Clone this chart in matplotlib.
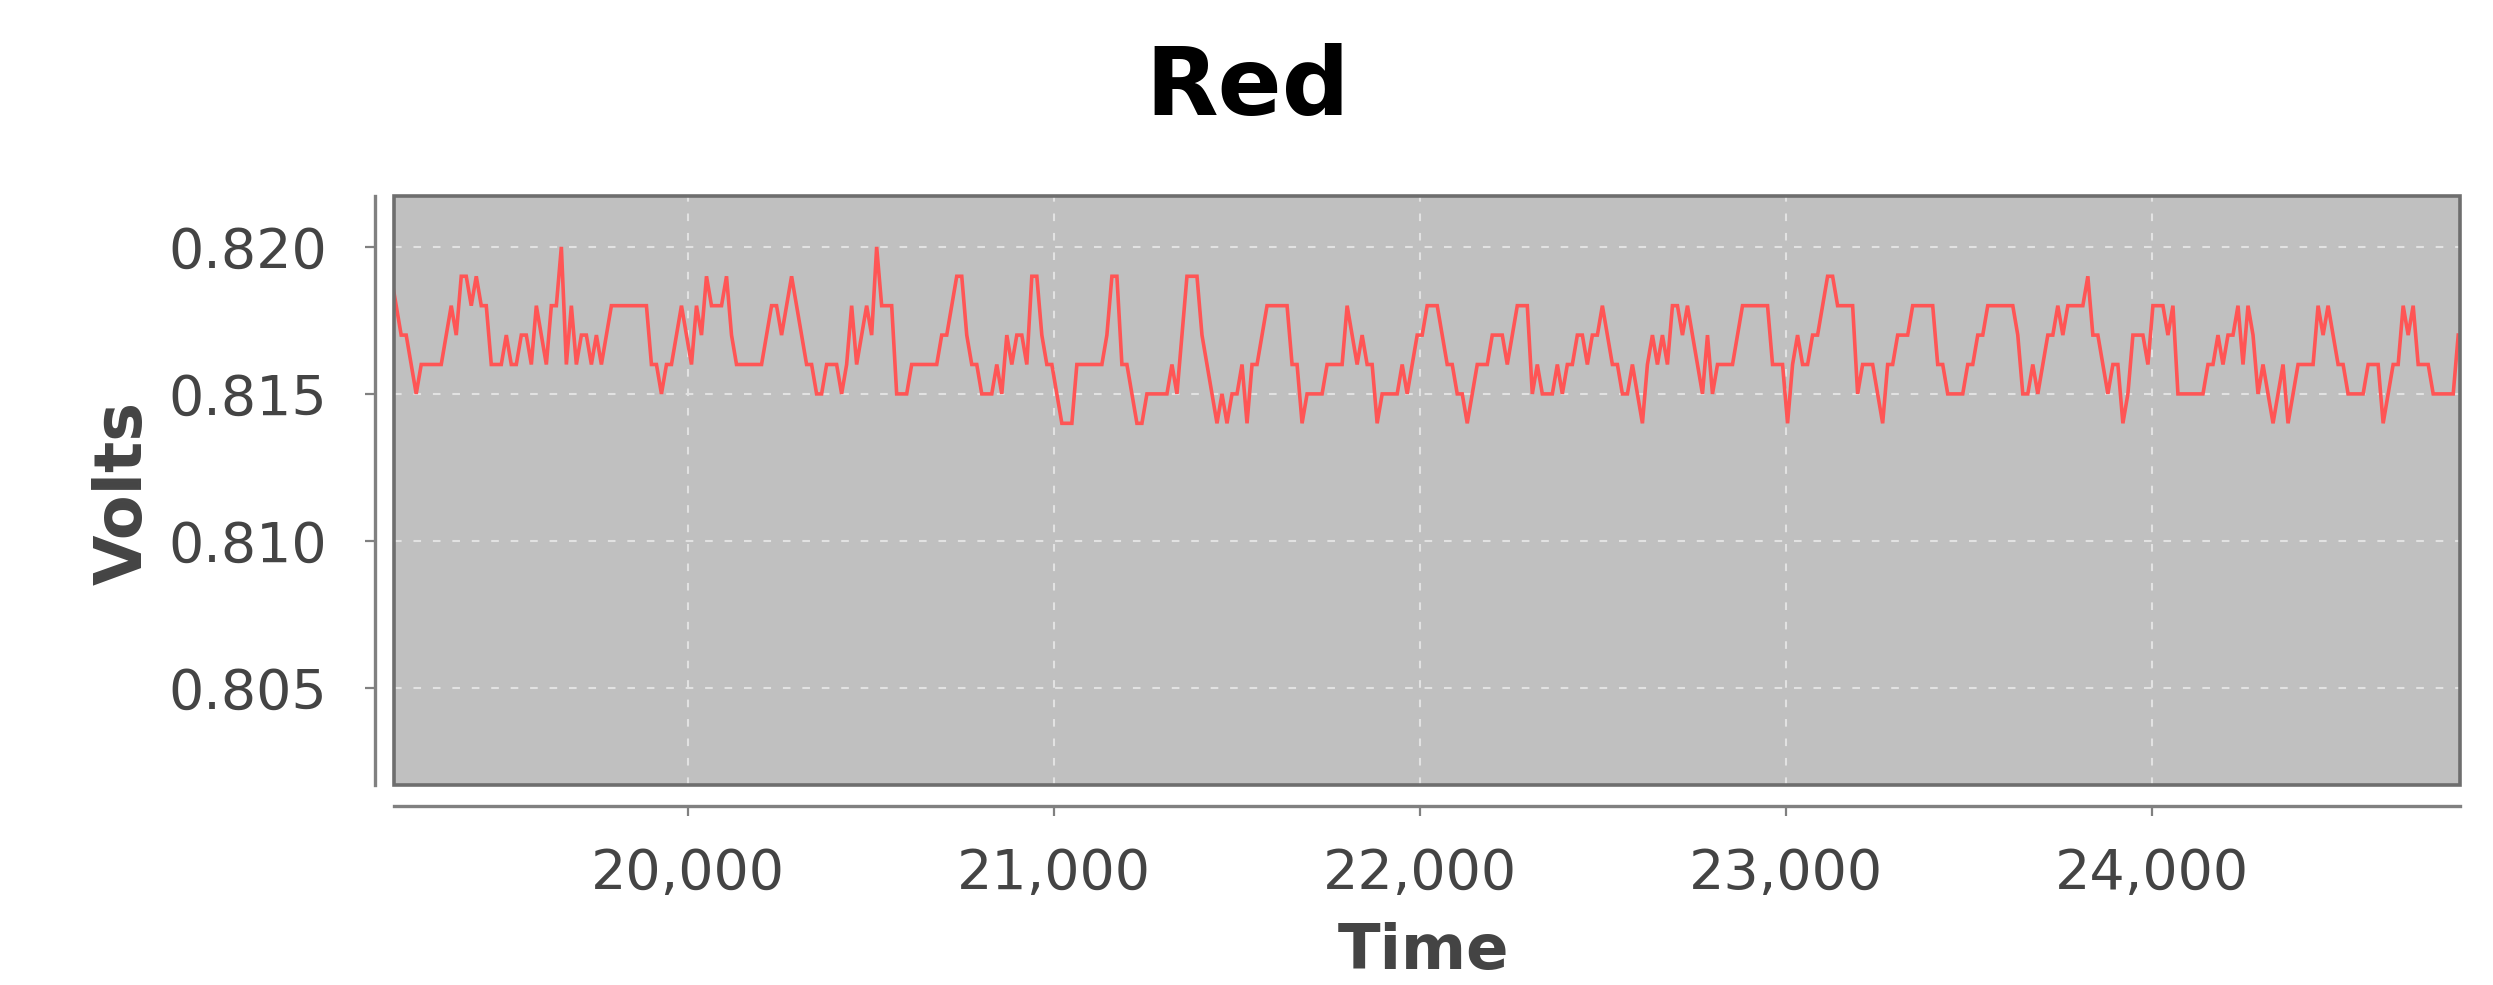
import numpy as np
import matplotlib
matplotlib.use("Agg")
import matplotlib.pyplot as plt
from matplotlib.patches import Rectangle
from matplotlib.ticker import FuncFormatter

# ---------------- data ----------------
title = "Red"
x_label = "Time"
y_label = "Volts"
t_start = 19188.3          # time of first sample
t_step = 13.68             # sampling interval
x_ticks = [20000, 21000, 22000, 23000, 24000]
y_ticks = [0.805, 0.810, 0.815, 0.820]
x_range = (19196, 24843)
y_range = (0.8017, 0.82173)

volts_a = [0.819,
    0.818,0.817,0.817,0.816,0.815,0.816,0.816,0.816,0.816,0.816,
    0.817,0.818,0.817,0.819,0.819,0.818,0.819,0.818,0.818,0.816,
    0.816,0.816,0.817,0.816,0.816,0.817,0.817,0.816,0.818,0.817,
    0.816,0.818,0.818,0.820,0.816,0.818,0.816,0.817,0.817,0.816,
    0.817,0.816,0.817,0.818,0.818,0.818,0.818,0.818,0.818,0.818,
    0.818,0.816,0.816,0.815,0.816,0.816,0.817,0.818,0.817,0.816,
    0.818,0.817,0.819,0.818,0.818,0.818,0.819,0.817,0.816,0.816,
    0.816,0.816,0.816,0.816,0.817,0.818,0.818,0.817,0.818,0.819,
    0.818,0.817,0.816,0.816,0.815,0.815,0.816,0.816,0.816,0.815,
    0.816,0.818,0.816,0.817,0.818,0.817,0.820,0.818,0.818,0.818,
    0.815,0.815,0.815]
volts_b = [
    0.816,0.816,0.816,0.816,0.816,0.816,0.817,0.817,0.818,0.819,
    0.819,0.817,0.816,0.816,0.815,0.815,0.815,0.816,0.815,0.817,
    0.816,0.817,0.817,0.816,0.819,0.819,0.817,0.816,0.816,0.815,
    0.814,0.814,0.814,0.816,0.816,0.816,0.816,0.816,0.816,0.817,
    0.819,0.819,0.816,0.816,0.815,0.814,0.814,0.815,0.815,0.815,
    0.815,0.815,0.816,0.815,0.817,0.819,0.819,0.819,0.817,0.816,
    0.815,0.814,0.815,0.814,0.815,0.815,0.816,0.814,0.816,0.816,
    0.817,0.818,0.818,0.818,0.818,0.818,0.816,0.816,0.814,0.815,
    0.815,0.815,0.815,0.816,0.816,0.816,0.816,0.818,0.817,0.816,
    0.817,0.816,0.816,0.814,0.815,0.815,0.815,0.815,0.816,0.815,
    0.816,0.817]
volts_c = [
    0.817,0.818,0.818,0.818,0.817,0.816,0.816,0.815,0.815,0.814,
    0.815,0.816,0.816,0.816,0.817,0.817,0.817,0.816,0.817,0.818,
    0.818,0.818,0.815,0.816,0.815,0.815,0.815,0.816,0.815,0.816,
    0.816,0.817,0.817,0.816,0.817,0.817,0.818,0.817,0.816,0.816,
    0.815,0.815,0.816,0.815,0.814,0.816,0.817,0.816,0.817,0.816,
    0.818,0.818,0.817,0.818,0.817,0.816,0.815,0.817,0.815,0.816,
    0.816,0.816,0.816,0.817,0.818,0.818,0.818,0.818,0.818,0.818,
    0.816,0.816,0.816,0.814,0.816,0.817,0.816,0.816,0.817,0.817,
    0.818,0.819,0.819,0.818,0.818,0.818,0.818,0.815,0.816,0.816,
    0.816,0.815,0.814,0.816,0.816,0.817,0.817,0.817,0.818,0.818,
    0.818,0.818]
volts_d = [
    0.818,0.816,0.816,0.815,0.815,0.815,0.815,0.816,0.816,0.817,
    0.817,0.818,0.818,0.818,0.818,0.818,0.818,0.817,0.815,0.815,
    0.816,0.815,0.816,0.817,0.817,0.818,0.817,0.818,0.818,0.818,
    0.818,0.819,0.817,0.817,0.816,0.815,0.816,0.816,0.814,0.815,
    0.817,0.817,0.817,0.816,0.818,0.818,0.818,0.817,0.818,0.815,
    0.815,0.815,0.815,0.815,0.815,0.816,0.816,0.817,0.816,0.817,
    0.817,0.818,0.816,0.818,0.817,0.815,0.816,0.815,0.814,0.815,
    0.816,0.814,0.815,0.816,0.816,0.816,0.816,0.818,0.817,0.818,
    0.817,0.816,0.816,0.815,0.815,0.815,0.815,0.816,0.816,0.816,
    0.814,0.815,0.816,0.816,0.818,0.817,0.818,0.816,0.816,0.816,
    0.815,0.815,0.815,0.815,0.815,0.817]

volts = np.array(volts_a + volts_b + volts_c + volts_d)
times = t_start + t_step * np.arange(len(volts))

# ---------------- styling ----------------
plt.rcParams['font.family'] = ['DejaVu Sans']
plt.rcParams['lines.scale_dashes'] = False

W, H = 2493, 985
fig = plt.figure(figsize=(W / 100, H / 100), dpi=100)
fig.patch.set_facecolor('white')

ax = fig.add_axes([394 / W, 1 - 785 / H, (2460 - 394) / W, (785 - 196) / H])
ax.set_facecolor('#c0c0c0')

ax.plot(times, volts, color='#ff5555', lw=2.6, zorder=2, solid_joinstyle='miter')

ax.set_xlim(*x_range)
ax.set_ylim(*y_range)
ax.set_xticks(x_ticks)
ax.set_yticks(y_ticks)
ax.xaxis.set_major_formatter(FuncFormatter(lambda v, p: f"{v:,.0f}"))
ax.yaxis.set_major_formatter(FuncFormatter(lambda v, p: f"{v:.3f}"))

ax.grid(True, color='#e2e2e2', lw=1.5, linestyle=(0, (5.5, 8.5)), zorder=1)
ax.set_axisbelow(True)

# frame around data area
ax.add_patch(Rectangle((0, 0), 1, 1, transform=ax.transAxes, fill=False,
                       ec='#6e6e6e', lw=2.6, zorder=3, clip_on=False))

for s in ['top', 'right']:
    ax.spines[s].set_visible(False)
ax.spines['left'].set_position(('outward', 13.5))
ax.spines['bottom'].set_position(('outward', 15))
for s in ['left', 'bottom']:
    ax.spines[s].set_color('#808080')
    ax.spines[s].set_linewidth(2.4)

ax.tick_params(axis='both', direction='out', length=7.5, width=1.6,
               color='#808080', labelcolor='#444444', labelsize=40)
ax.tick_params(axis='y', pad=27)
ax.tick_params(axis='x', pad=22)

fig.text(0.5006, 1 - 89 / H, title, ha='center', va='center',
         fontsize=68, fontweight='bold', color='black')
fig.text(124 / W, 1 - 493 / H, y_label, ha='center', va='center', rotation=90,
         fontsize=47, fontweight='bold', color='#444444')
fig.text(1423 / W, 1 - 952 / H, x_label, ha='center', va='center',
         fontsize=45, fontweight='bold', color='#444444')

fig.savefig('out.png', dpi=100)
